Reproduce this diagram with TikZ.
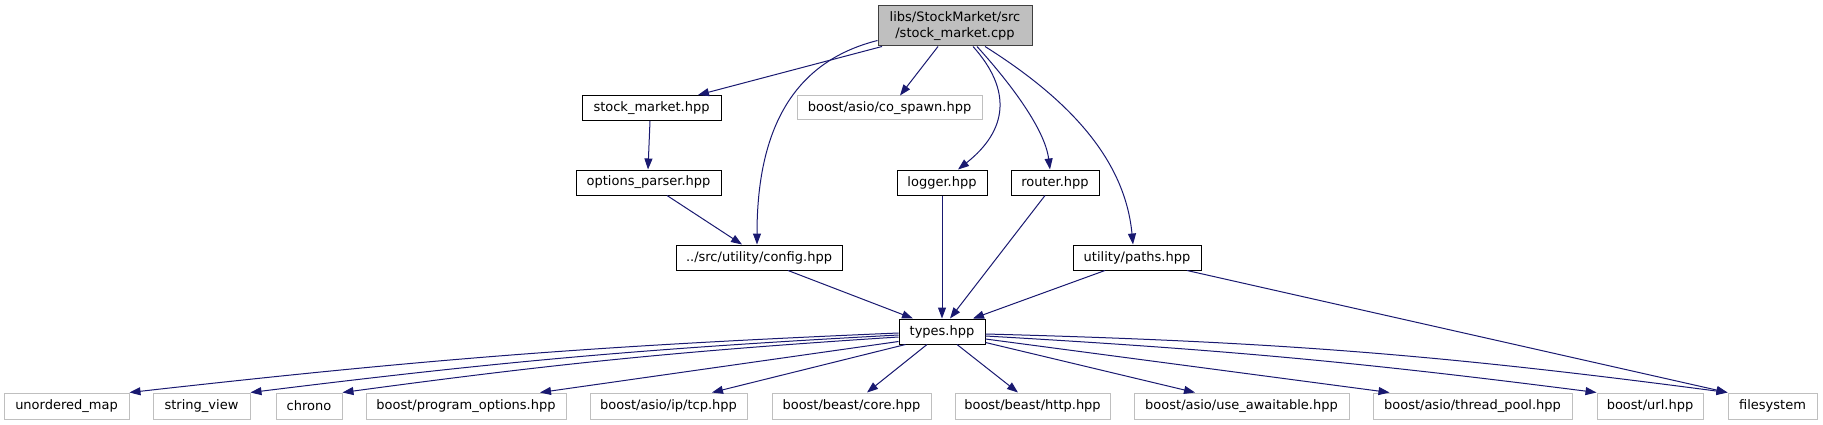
\documentclass[tikz,border=0pt]{standalone}
\usepackage{fontspec}
\setmainfont{DejaVu Sans}
\usetikzlibrary{arrows.meta,calc}
\definecolor{edgeblue}{HTML}{191970}
\definecolor{graybox}{HTML}{BFBFBF}
\definecolor{rootborder}{HTML}{404040}
\tikzset{
  box/.style={draw=black, line width=1pt, fill=white, inner sep=0pt, minimum height=25pt, font=\fontsize{13}{16}\selectfont, text=black},
  gbox/.style={box, draw=graybox, minimum height=26pt},
  rootbox/.style={box, fill=graybox, draw=rootborder, minimum height=40pt, align=center},
  edge/.style={draw=edgeblue, line width=1pt, -{Triangle[length=11pt,width=8pt]}, fill=none},
}
\begin{document}
\begin{tikzpicture}[x=1pt,y=-1pt]
\useasboundingbox (0,0) rectangle (1823,425);
% nodes
\node[rootbox, minimum width=154pt] (root) at (955,26) {libs/StockMarket/src\\/stock\_market.cpp};
\node[box, minimum width=139pt] (sm) at (651.5,108) {stock\_market.hpp};
\node[gbox, minimum width=185pt, minimum height=24pt] (cospawn) at (889.5,108) {boost/asio/co\_spawn.hpp};
\node[box, minimum width=145pt] (opt) at (648.5,182.5) {options\_parser.hpp};
\node[box, minimum width=90pt] (logger) at (942,182.5) {logger.hpp};
\node[box, minimum width=88pt] (router) at (1055,182.5) {router.hpp};
\node[box, minimum width=166pt] (config) at (759,257.5) {../src/utility/config.hpp};
\node[box, minimum width=128pt] (paths) at (1137,257.5) {utility/paths.hpp};
\node[box, minimum width=86pt] (types) at (942,331.5) {types.hpp};
% bottom row
\node[gbox, minimum width=125pt] (umap) at (66.5,406) {unordered\_map};
\node[gbox, minimum width=97pt] (sview) at (201.5,406) {string\_view};
\node[gbox, minimum width=66pt] (chrono) at (309,406) {chrono};
\node[gbox, minimum width=200pt] (popt) at (466,406) {boost/program\_options.hpp};
\node[gbox, minimum width=157pt] (tcp) at (668.5,406) {boost/asio/ip/tcp.hpp};
\node[gbox, minimum width=159pt] (core) at (851.5,406) {boost/beast/core.hpp};
\node[gbox, minimum width=155pt] (http) at (1032.5,406) {boost/beast/http.hpp};
\node[gbox, minimum width=215pt] (useaw) at (1241.5,406) {boost/asio/use\_awaitable.hpp};
\node[gbox, minimum width=199pt] (tpool) at (1472.5,406) {boost/asio/thread\_pool.hpp};
\node[gbox, minimum width=106pt] (url) at (1650,406) {boost/url.hpp};
\node[gbox, minimum width=89pt] (fs) at (1772.5,406) {filesystem};
% edges from root
\draw[edge] ($(root.south)+(-73,0)$) -- ($(sm.north)+(46.5,0)$);
\draw[edge] ($(root.south)+(-17,0)$) -- ($(cospawn.north)+(10.5,0)$);
\draw[edge] ($(root.south west)+(0,-6)$) .. controls (800,60) and (757,120) .. ($(config.north)+(-2,0)$);
\draw[edge] ($(root.south)+(18,0)$) .. controls (1012,90) and (1008,130) .. ($(logger.north)+(16,0)$);
\draw[edge] ($(root.south)+(22,0)$) .. controls (1012,85) and (1045,130) .. ($(router.north)+(-5,0)$);
\draw[edge] ($(root.south)+(30,0)$) .. controls (1070,100) and (1125,160) .. ($(paths.north)+(-4,0)$);
% middle edges
\draw[edge] ($(sm.south)+(-1.5,0)$) -- ($(opt.north)+(-0.5,0)$);
\draw[edge] ($(opt.south)+(18.5,0)$) -- ($(config.north)+(-17,0)$);
\draw[edge] ($(config.south)+(29,0)$) -- ($(types.north)+(-29,0)$);
\draw[edge] (logger.south) -- (types.north);
\draw[edge] ($(router.south)+(-10,0)$) -- ($(types.north)+(8,0)$);
\draw[edge] ($(paths.south)+(-32,0)$) -- ($(types.north)+(31,0)$);
\draw[edge] ($(paths.south)+(50,0)$) -- (fs.north west);
% from types to bottom row
\draw[edge] ($(types.west)+(0,1.5)$) to[bend right=2] (umap.north east);
\draw[edge] ($(types.west)+(0,3.5)$) to[bend right=2] (sview.north east);
\draw[edge] ($(types.west)+(0,5.5)$) to[bend right=2] (chrono.north east);
\draw[edge] ($(types.south west)+(0,-3)$) -- ($(popt.north)+(74,0)$);
\draw[edge] ($(types.south west)+(7,0)$) -- ($(tcp.north)+(43.5,0)$);
\draw[edge] ($(types.south)+(-15,0)$) -- ($(core.north)+(15.5,0)$);
\draw[edge] ($(types.south)+(15,0)$) -- ($(http.north)+(-14.5,0)$);
\draw[edge] ($(types.south east)+(0,-2)$) -- ($(useaw.north)+(-46.5,0)$);
\draw[edge] ($(types.east)+(0,7.5)$) -- ($(tpool.north west)+(17,0)$);
\draw[edge] ($(types.east)+(0,4.5)$) to[bend left=2] (url.north west);
\draw[edge] ($(types.east)+(0,2.5)$) to[bend left=3] (fs.north west);
\end{tikzpicture}
\end{document}
